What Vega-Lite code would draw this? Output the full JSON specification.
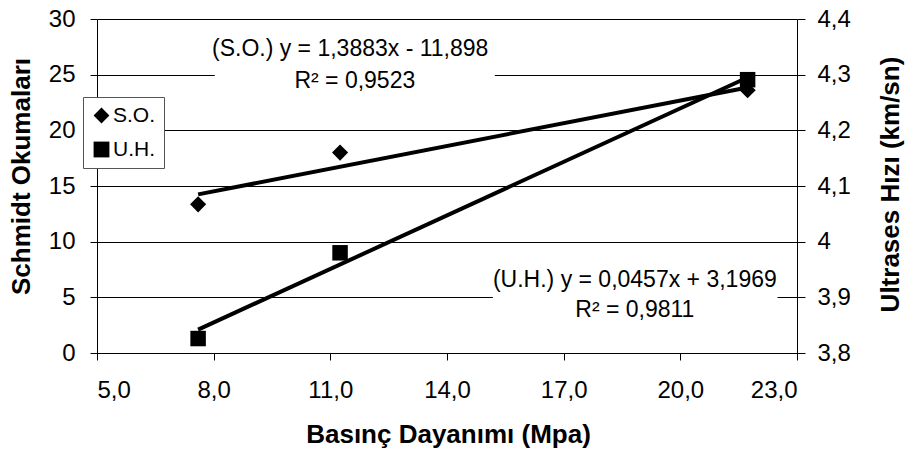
{
  "$schema": "https://vega.github.io/schema/vega-lite/v6.json",
  "autosize": "none",
  "width": 700,
  "height": 334,
  "padding": {"left": 97, "top": 19, "right": 110, "bottom": 100},
  "background": "white",
  "config": {
    "locale": {"number": {"decimal": ",", "thousands": ".", "grouping": [3], "currency": ["", " €"]}},
    "view": {"stroke": null},
    "font": "Liberation Sans",
    "axis": {
      "domainColor": "black", "tickColor": "black", "labelColor": "black", "titleColor": "black",
      "labelFont": "Liberation Sans", "titleFont": "Liberation Sans",
      "labelFontSize": 24, "titleFontSize": 26, "titleFontWeight": "bold",
      "tickSize": 7, "labelPadding": 14, "grid": false, "gridColor": "black", "gridOpacity": 1,
      "domainWidth": 1, "tickWidth": 1
    }
  },
  "datasets": {
    "points": [
      {"series": "S.O.", "x": 7.6, "y": 13.35},
      {"series": "S.O.", "x": 11.25, "y": 18.0},
      {"series": "S.O.", "x": 21.73, "y": 23.6},
      {"series": "U.H.", "x": 7.6, "y": 3.826},
      {"series": "U.H.", "x": 11.25, "y": 3.98},
      {"series": "U.H.", "x": 21.73, "y": 4.291}
    ],
    "trend": [
      {"series": "S.O.", "x": 7.6, "y": 14.25},
      {"series": "S.O.", "x": 21.73, "y": 23.85},
      {"series": "U.H.", "x": 7.6, "y": 3.842},
      {"series": "U.H.", "x": 21.73, "y": 4.295}
    ],
    "labels": [
      {"label": "(S.O.) y = 1,3883x - 11,898", "x": 11.51, "y": 27.3},
      {"label": "R² = 0,9523", "x": 11.63, "y": 24.45},
      {"label": "(U.H.) y = 0,0457x + 3,1969", "x": 18.83, "y": 6.6},
      {"label": "R² = 0,9811", "x": 18.83, "y": 3.85}
    ],
    "boxes": [
      {"x": 8.03, "x2": 15.23, "y": 28.5, "y2": 23.1},
      {"x": 15.18, "x2": 22.5, "y": 9.2, "y2": 4.3}
    ]
  },
  "layer": [
    {
      "layer": [
        {
          "data": {"name": "boxes"},
          "mark": {"type": "rect", "fill": "white", "stroke": null},
          "encoding": {
            "x": {"field": "x", "type": "quantitative", "scale": {"domain": [5, 23], "nice": false, "zero": false},
              "axis": {"title": "Basınç Dayanımı (Mpa)", "values": [5, 8, 11, 14, 17, 20, 23], "format": ".1f", "labelPadding": 18, "titleX": 351, "titleY": 81, "titleBaseline": "middle", "titleAlign": "center"}},
            "x2": {"field": "x2"},
            "y": {"field": "y", "type": "quantitative", "scale": {"domain": [0, 30], "nice": false, "zero": false},
              "axis": {"title": "Schmidt Okumaları", "values": [0, 5, 10, 15, 20, 25, 30], "grid": true, "labelPadding": 15, "titleX": -76, "titleY": 157, "titleAngle": -90, "titleBaseline": "middle", "titleAlign": "center"}},
            "y2": {"field": "y2"}
          }
        },
        {
          "data": {"name": "labels"},
          "mark": {"type": "text", "fontSize": 23, "align": "center", "baseline": "middle", "color": "black", "font": "Liberation Sans"},
          "encoding": {
            "x": {"field": "x", "type": "quantitative"},
            "y": {"field": "y", "type": "quantitative"},
            "text": {"field": "label"}
          }
        },
        {
          "data": {"name": "points"},
          "transform": [{"filter": "datum.series === 'S.O.'"}],
          "mark": {"type": "point", "filled": true, "color": "black", "size": 260, "opacity": 1},
          "encoding": {
            "x": {"field": "x", "type": "quantitative"},
            "y": {"field": "y", "type": "quantitative"},
            "shape": {"field": "series", "type": "nominal",
              "scale": {"domain": ["S.O.", "U.H."], "range": ["diamond", "square"]},
              "legend": {"title": null, "orient": "none", "legendX": -14, "legendY": 78, "fillColor": "white", "strokeColor": "#555555", "padding": 8, "labelFontSize": 21, "labelFont": "Liberation Sans", "labelColor": "black", "symbolSize": 250, "symbolFillColor": "black", "symbolStrokeWidth": 0, "rowPadding": 12, "labelOffset": 1, "zindex": 5}}
          }
        },
        {
          "data": {"name": "trend"},
          "transform": [{"filter": "datum.series === 'S.O.'"}],
          "mark": {"type": "line", "color": "black", "strokeWidth": 4},
          "encoding": {
            "x": {"field": "x", "type": "quantitative"},
            "y": {"field": "y", "type": "quantitative"}
          }
        }
      ]
    },
    {
      "layer": [
        {
          "data": {"name": "points"},
          "transform": [{"filter": "datum.series === 'U.H.'"}],
          "mark": {"type": "point", "filled": true, "color": "black", "size": 240, "opacity": 1},
          "encoding": {
            "x": {"field": "x", "type": "quantitative"},
            "y": {"field": "y", "type": "quantitative", "scale": {"domain": [3.8, 4.4], "nice": false, "zero": false},
              "axis": {"orient": "right", "title": "Ultrases Hızı (km/sn)", "values": [3.8, 3.9, 4.0, 4.1, 4.2, 4.3, 4.4], "format": ".1~f", "tickSize": 8, "labelPadding": 12, "titleX": 93, "titleY": 165, "titleAngle": -90, "titleBaseline": "middle", "titleAlign": "center"}},
            "shape": {"field": "series", "type": "nominal"}
          }
        },
        {
          "data": {"name": "trend"},
          "transform": [{"filter": "datum.series === 'U.H.'"}],
          "mark": {"type": "line", "color": "black", "strokeWidth": 4},
          "encoding": {
            "x": {"field": "x", "type": "quantitative"},
            "y": {"field": "y", "type": "quantitative"}
          }
        }
      ]
    }
  ],
  "resolve": {"scale": {"y": "independent"}}
}
